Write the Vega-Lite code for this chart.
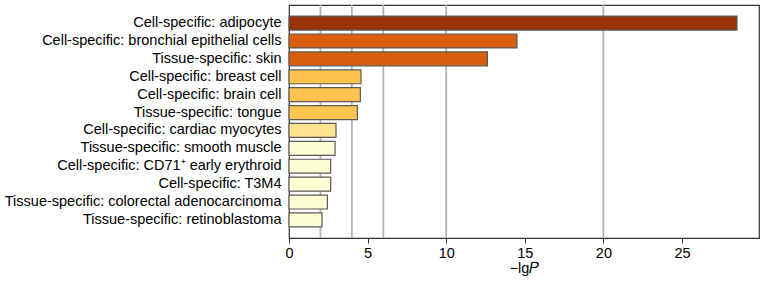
{
  "$schema": "https://vega.github.io/schema/vega-lite/v6.json",
  "width": 470,
  "height": 233,
  "autosize": {"type": "none"},
  "padding": {"left": 289, "top": 5, "right": 5, "bottom": 45},
  "background": "white",
  "config": {
    "font": "Liberation Sans",
    "view": {"stroke": "#333333", "strokeWidth": 1.2},
    "axis": {"labelFont": "Liberation Sans", "titleFont": "Liberation Sans", "labelColor": "#000", "titleColor": "#000"}
  },
  "datasets": {
    "terms": [
      {"term": "Cell-specific: adipocyte", "logp": 28.5},
      {"term": "Cell-specific: bronchial epithelial cells", "logp": 14.5},
      {"term": "Tissue-specific: skin", "logp": 12.62},
      {"term": "Cell-specific: breast cell", "logp": 4.58},
      {"term": "Cell-specific: brain cell", "logp": 4.54},
      {"term": "Tissue-specific: tongue", "logp": 4.35},
      {"term": "Cell-specific: cardiac myocytes", "logp": 2.99},
      {"term": "Tissue-specific: smooth muscle", "logp": 2.93},
      {"term": "Cell-specific: CD71⁺ early erythroid", "logp": 2.65},
      {"term": "Cell-specific: T3M4", "logp": 2.65},
      {"term": "Tissue-specific: colorectal adenocarcinoma", "logp": 2.44},
      {"term": "Tissue-specific: retinoblastoma", "logp": 2.1}
    ],
    "lines": [{"v": 2}, {"v": 4}, {"v": 6}, {"v": 10}, {"v": 20}]
  },
  "layer": [
    {
      "data": {"name": "lines"},
      "mark": {"type": "rule", "color": "#b4b4b4", "strokeWidth": 1.8},
      "encoding": {
        "x": {"field": "v", "type": "quantitative", "scale": {"domain": [0, 29.9], "nice": false, "zero": true}}
      }
    },
    {
      "data": {"name": "terms"},
      "mark": {"type": "bar", "stroke": "#5a5a5a", "strokeWidth": 1.2},
      "encoding": {
        "y": {
          "field": "term", "type": "nominal", "sort": null,
          "scale": {"paddingInner": 0.22, "paddingOuter": 0.62},
          "axis": {"title": null, "labelFontSize": 14.5, "labelPadding": 8, "ticks": false, "domain": false, "labelLimit": 400}
        },
        "x": {
          "field": "logp", "type": "quantitative",
          "scale": {"domain": [0, 29.9], "nice": false},
          "axis": {"title": "−lg𝑃", "titleFontSize": 14.5, "titleFontWeight": "normal", "titlePadding": 2, "labelFontSize": 14.5, "labelFlush": false, "values": [0, 5, 10, 15, 20, 25], "grid": false, "tickColor": "#333", "domainColor": "#333", "tickSize": 5, "labelPadding": 3}
        },
        "color": {
          "field": "logp", "type": "quantitative",
          "scale": {"type": "threshold", "domain": [2.95, 4, 10, 20], "range": ["#ffffd4", "#fee391", "#fec44f", "#d95f0e", "#993404"]},
          "legend": null
        }
      }
    }
  ]
}
